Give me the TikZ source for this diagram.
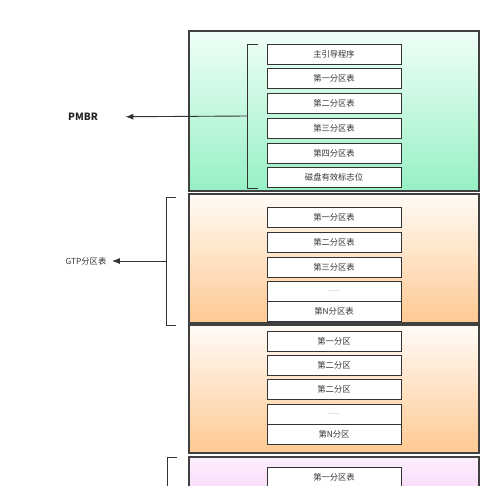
\documentclass[tikz,border=0pt]{standalone}
\usepackage{fontspec}
\setmainfont{Noto Sans CJK SC}
\usetikzlibrary{positioning,arrows.meta}
\definecolor{mintlight}{HTML}{F0FFF8}
\definecolor{mint}{HTML}{96F0C4}
\definecolor{peachlight}{HTML}{FFFBF6}
\definecolor{peach}{HTML}{FFC992}
\definecolor{pinklight}{HTML}{FCEEFC}
\definecolor{pink}{HTML}{EFA6EF}
\begin{document}
\begin{tikzpicture}[x=1pt, y=-1pt, node distance=24.8pt]
  % Define styles
  \tikzstyle{part}=[draw=black!75, line width=1.3pt]
  \tikzstyle{field}=[rectangle, draw=black!80, line width=0.9pt, fill=white, minimum width=134pt, minimum height=20pt, inner sep=0pt, text=black!80, font=\fontsize{8.3}{10}\selectfont]
  \tikzstyle{dots}=[field, text=black!45, font=\scriptsize]
  \tikzstyle{brace}=[draw=black!80, line width=0.9pt]
  \tikzstyle{link}=[-{Latex[length=8pt,width=6pt]}, line width=0.9pt, draw=black!80]

  \useasboundingbox (0,0) rectangle (500,485);
  \clip (0,0) rectangle (500,485);

  % Sections
  \draw[part, top color=mintlight, bottom color=mint] (189,31) rectangle (479,191);
  \draw[part, top color=peachlight, bottom color=peach] (189,194) rectangle (479,323);
  \draw[part, top color=peachlight, bottom color=peach] (189,325) rectangle (479,453);
  \draw[part, top color=pinklight, bottom color=pink] (189,457) rectangle (479,587);

  % Protective MBR
  \node[field] (boot) at (334,54) {主引导程序};
  \node[field, below of=boot] (mbr1) {第一分区表};
  \node[field, below of=mbr1] (mbr2) {第二分区表};
  \node[field, below of=mbr2] (mbr3) {第三分区表};
  \node[field, below of=mbr3] (mbr4) {第四分区表};
  \node[field, below of=mbr4, node distance=24pt] (flag) {磁盘有效标志位};

  % GPT partition table
  \node[field] (gpt1) at (334,217.5) {第一分区表};
  \node[field, below of=gpt1, node distance=25pt] (gpt2) {第二分区表};
  \node[field, below of=gpt2, node distance=25pt] (gpt3) {第三分区表};
  \node[dots, below of=gpt3, node distance=24pt] (gptdots) {......};
  \node[field, below=-0.9pt of gptdots] (gptn) {第N分区表};

  % Partitions
  \node[field] (part1) at (334,341) {第一分区};
  \node[field, below of=part1, node distance=24pt] (part2) {第二分区};
  \node[field, below of=part2, node distance=24pt] (part3) {第二分区};
  \node[dots, below of=part3, node distance=25pt] (partdots) {......};
  \node[field, below=-0.9pt of partdots] (partn) {第N分区};

  % Backup table
  \node[field] (bak1) at (334,477) {第一分区表};

  % Labels
  \node[font=\bfseries\fontsize{10}{12}\selectfont, text=black!85] (pmbr) at (83,117) {PMBR};
  \node[font=\fontsize{8.3}{10}\selectfont, text=black!80] (gpt) at (86,261) {GTP分区表};

  % Brackets
  \draw[brace] (258,44) -- (247,44) -- (247,188) -- (258,188);
  \draw[brace] (176,197) -- (166,197) -- (166,325) -- (176,325);
  \draw[brace] (177,457) -- (167,457) -- (167,500);
  \coordinate (pmbrbrace) at (247,116);
  \coordinate (gptbrace) at (166,261);

  % Relationships
  \draw[link, shorten >=24pt] (pmbrbrace) -- (pmbr);
  \draw[link, shorten >=2pt] (gptbrace) -- (gpt);
\end{tikzpicture}
\end{document}
